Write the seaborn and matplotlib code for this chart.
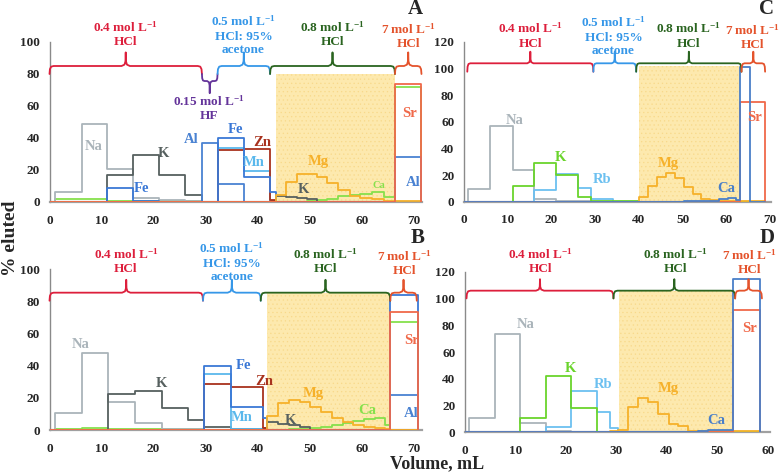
import matplotlib
matplotlib.use("Agg")
import matplotlib.pyplot as plt
import seaborn as sns

# ---------------- data ----------------
# Panel A: fraction edges (mL) and % eluted per fraction
A_EDGES = [0, 1, 6.2, 11.1, 16, 21, 26, 29.3, 32.3, 37.4, 42.4, 43.5, 45.4, 47.5,
           49.5, 51.4, 53.4, 55.5, 57.7, 59.7, 62, 64.2, 66.4, 71.5]
A_NA = [0, 6, 49, 20.5, 2.5, 1, 0.5, 0, 0, 0, 0, 0, 0, 0, 0, 0, 0, 0, 0, 0, 0, 0, 0]
A_K = [0, 0, 0, 17, 29.5, 17, 4.4, 0.3, 0.3, 0.3, 0.5, 3.7, 3.0, 2.5, 1.7, 0, 0, 0, 0, 0, 0, 0, 0]
A_FE = [0, 0, 0, 8.5, 0.5, 0, 0, 0, 40, 15.8, 6.4, 0, 0, 0, 0, 0, 0, 0, 0, 0, 0, 0, 0]
A_AL = [0, 0, 0, 0, 0, 0, 0, 36.7, 11, 0, 0, 0, 0, 0, 0, 0, 0, 0, 0, 0, 0, 0, 28]
A_MN = [0, 0, 0, 0, 0, 0, 0, 0, 34, 19.5, 0, 0, 0, 0, 0, 0, 0, 0, 0, 0, 0, 0, 0]
A_ZN = [0, 0, 0, 0, 0, 0, 0, 0, 32.5, 33, 1.2, 0, 0, 0, 0, 0, 0, 0, 0, 0, 0, 0, 0]
A_MG = [0, 0, 0, 0, 0, 0, 0, 0, 0, 0, 0, 4.4, 12.7, 17.5, 17.5, 15.8, 11.7, 7.5, 4, 2.7, 2, 0.6, 0.5]
A_CA = [0, 1.7, 1.7, 0.5, 0.5, 0.5, 0.5, 0, 0, 0, 0, 0, 0, 0.3, 0.5, 1, 2, 3.5, 4.3, 5, 6.2, 3, 72]
A_SR = [0, 0, 0, 0, 0, 0, 0, 0, 0, 0, 0, 0, 0, 0, 0, 0, 0, 0, 0, 0, 0, 0, 73.5]

# Panel B
B_EDGES = [0, 1, 6.2, 11.3, 16.4, 21.6, 26.7, 29.7, 34.8, 41, 41.9, 44, 46.1, 48.2,
           50.1, 52.2, 54.3, 56.4, 58.4, 60.5, 62.5, 64.5, 65.5, 70.8]
B_NA = [0, 10.4, 48, 17.6, 4.5, 0.8, 0.8, 0, 0, 0, 0, 0, 0, 0, 0, 0, 0, 0, 0, 0, 0, 0, 0]
B_K = [0, 0, 0, 22.2, 24.4, 13.9, 6.2, 1.7, 0.5, 1.5, 4.7, 3.9, 2.9, 2.0, 0, 0, 0, 0, 0, 0, 0, 0, 0]
B_FE = [0, 0, 0, 0, 0, 0, 0, 40, 14.5, 7.3, 0, 0, 0, 0, 0, 0, 0, 0, 0, 0, 0, 0, 84]
B_MN = [0, 0, 0, 0, 0, 0, 0, 35, 0.5, 0, 0, 0, 0, 0, 0, 0, 0, 0, 0, 0, 0, 0, 0]
B_ZN = [0, 0, 0, 0, 0, 0, 0, 28.6, 26.5, 1.5, 0, 0, 0, 0, 0, 0, 0, 0, 0, 0, 0, 0, 0]
B_AL = [0, 0, 0, 0, 0, 0, 0, 0, 0, 0, 0, 0, 0, 0, 0, 0, 0, 0, 0, 0, 0, 0, 22]
B_MG = [0, 0, 0, 0, 0, 0, 0, 0, 0, 0, 8.9, 16.6, 18.6, 17.6, 14.5, 11.4, 7.7, 4.7, 3.1, 2.1, 1.4, 0.7, 0]
B_CA = [0, 0.8, 1.3, 0.8, 0.8, 0.8, 0.5, 0, 0, 0, 0.3, 0.3, 0.5, 0.7, 1, 1.8, 3, 4.6, 5.3, 6.6, 7.6, 3.3, 67]
B_SR = [0, 0, 0, 0, 0, 0, 0, 0, 0, 0, 0, 0, 0, 0, 0, 0, 0, 0, 0, 0, 0, 0, 73]

# Panel C
C_EDGES = [0, 1, 6, 11.1, 16.1, 21.05, 26.2, 29.1, 34.2, 40, 42.2, 44.1, 46.2, 48.3,
           50.3, 52.3, 54.2, 56.3, 58.3, 60.3, 62.3, 63.2, 65.4, 68.8]
C_NA = [0, 9.5, 57, 23.8, 2, 0.5, 0.5, 0, 0, 0, 0, 0, 0, 0, 0, 0, 0, 0, 0, 0, 0, 0, 0]
C_K = [0, 0, 0, 11.5, 28.8, 20, 3.75, 0.3, 0.3, 0, 0, 0, 0, 0, 0, 0, 0, 0, 0, 0, 0, 0, 0]
C_RB = [0, 0, 0, 0, 9, 21, 10, 2.3, 0, 0, 0, 0, 0, 0, 0, 0, 0, 0, 0, 0, 0, 0, 0]
C_MG = [0, 0, 0, 0, 0, 0, 0, 0, 0, 3.3, 11.8, 18.8, 21.8, 17.5, 10.8, 5.8, 2.3, 1, 0.8, 0.6, 0.5, 0.5, 0.3]
C_CA = [0, 0, 0, 0, 0, 0, 0, 0, 0, 0, 0, 0, 0, 0, 0.3, 0.3, 0.5, 0.8, 2.3, 2.5, 1.5, 101, 0]
C_SR = [0, 0, 0, 0, 0, 0, 0, 0, 0, 0, 0, 0, 0, 0, 0, 0, 0, 0, 0, 0, 0, 75, 75]

# Panel D
D_EDGES = [0, 0.86, 5.94, 10.9, 16, 21, 26.1, 28.8, 30.2, 32.2, 34.3, 36.3, 38.3,
           40.3, 42.2, 44.2, 46.2, 48.2, 53.1, 58.4]
D_NA = [0, 10.25, 73.5, 6.5, 0.5, 0, 0, 0, 0, 0, 0, 0, 0, 0, 0, 0, 0, 0, 0]
D_K = [0, 0, 0, 10.75, 42, 17.75, 0, 0, 0, 0, 0, 0, 0, 0, 0, 0, 0, 0, 0]
D_RB = [0, 0, 0, 0, 4, 31, 15.25, 2.75, 0, 0, 0, 0, 0, 0, 0, 0, 0, 0, 0]
D_MG = [0, 0, 0, 0, 0, 0, 0, 0.5, 1.5, 18.5, 25.75, 22.75, 13.5, 6, 4.5, 1, 0.5, 0.5, 0.5]
D_CA = [0, 0, 0, 0, 0, 0, 0, 0, 0, 0, 0, 0, 0, 0, 0, 0, 0.5, 1.5, 114.7]
D_SR = [0, 0, 0, 0, 0, 0, 0, 0, 0, 0, 0, 0, 0, 0, 0, 0, 0, 0, 91.5]

# eluent zones: (start, end) per panel, and shaded Mg window
A_ZONES = [(0, 29.3), (29.3, 32.3), (32.3, 42.4), (42.4, 66.4), (66.4, 71.5)]
B_ZONES = [(0, 29.5), (29.5, 40.6), (40.6, 65.5), (65.5, 70.6)]
C_ZONES = [(0.75, 29.6), (29.6, 39.4), (39.4, 63.5), (63.5, 68.9)]
D_ZONES = [(0.3, 29.4), (29.4, 53.5), (53.5, 58.8)]
SHADE = {"A": (43.5, 66.4, 80), "B": (41.9, 65.5, 85), "C": (40.0, 63.2, 102), "D": (30.4, 53.1, 106)}

# ---------------- style ----------------
sns.set_style("white")
plt.rcParams["font.family"] = ["Liberation Serif", "DejaVu Serif"]
plt.rcParams["font.weight"] = "bold"
plt.rcParams["mathtext.fontset"] = "custom"
plt.rcParams["mathtext.rm"] = "Liberation Serif:bold"
plt.rcParams["mathtext.default"] = "rm"
plt.rcParams["hatch.linewidth"] = 0.4

COL_NA = "#aab4ba"
COL_KD = "#56605f"
COL_KG = "#6ad42c"
COL_FE = "#3a78d6"
COL_AL = "#4a82d2"
COL_MN = "#5ab8ec"
COL_ZN = "#a8321e"
COL_MG = "#f6b12a"
COL_CAG = "#86e04c"
COL_CAB = "#4a7fc8"
COL_SR = "#f0694a"
COL_RB = "#6cc0f0"
RED, BLUE, GREEN, ORANGE, PURPLE = "#dd1f3c", "#3697e8", "#2a6420", "#e4532c", "#64349a"


def step_xy(edges, vals):
    xs = [edges[0]] + list(edges) + [edges[-1]]
    ys = [0] + list(vals) + [vals[-1], 0]
    return xs, ys


def draw_series(ax, edges, series):
    for vals, col in series:
        xs, ys = step_xy(edges, vals)
        sns.lineplot(x=xs, y=ys, ax=ax, color=col, lw=1.3, sort=False,
                     estimator=None, drawstyle="steps-post", legend=False, zorder=3)


def brace(ax, x0, x1, y, color, hook, tick, d=0.8):
    xc = (x0 + x1) / 2
    xs = [x0, x0 + 0.1 * d, x0 + 0.4 * d, x0 + d, xc - d, xc - 0.3 * d, xc - 0.06 * d, xc,
          xc + 0.06 * d, xc + 0.3 * d, xc + d, x1 - d, x1 - 0.4 * d, x1 - 0.1 * d, x1]
    ys = [y - hook, y - 0.4 * hook, y - 0.08 * hook, y, y, y + 0.1 * tick, y + 0.35 * tick, y + tick,
          y + 0.35 * tick, y + 0.1 * tick, y, y, y - 0.08 * hook, y - 0.4 * hook, y - hook]
    ax.plot(xs, ys, color=color, lw=1.3, clip_on=False, zorder=4)


def style_axes(ax, xmax, ymax, xticks, yticks):
    ax.set_xlim(0, xmax)
    ax.set_ylim(0, ymax)
    ax.set_xticks(xticks)
    ax.set_yticks(yticks)
    ax.tick_params(axis="y", length=0, labelsize=9.5, pad=7)
    ax.tick_params(axis="x", length=0, labelsize=9.5, pad=9)
    for lab in ax.get_xticklabels() + ax.get_yticklabels():
        lab.set_fontweight("bold")
    for s in ["top", "right"]:
        ax.spines[s].set_visible(False)
    ax.spines["left"].set_color("#8a8a8a")
    ax.spines["left"].set_linewidth(1.0)
    ax.spines["bottom"].set_color("#a0a0a0")
    ax.spines["bottom"].set_linewidth(1.6)
    ax.set_xlabel("")
    ax.set_ylabel("")
    ax.patch.set_alpha(0)


def shade(ax, key):
    x0, x1, top = SHADE[key]
    ax.fill_between([x0, x1], 0, top, facecolor="#fde9ae", edgecolor="#f8d98a",
                    hatch="....", lw=0, zorder=1)


def label(ax, x, y, s, col, size=10.5, va="center"):
    ax.text(x, y, s, color=col, fontsize=size, fontweight="bold", ha="center", va=va,
            clip_on=False, zorder=5)


L1 = r"mol L$^{-1}$"

fig = plt.figure(figsize=(7.8, 4.73), dpi=100)
axA = fig.add_axes([49.5 / 780, 1 - 202 / 473, 372.5 / 780, 160 / 473])
axB = fig.add_axes([49.5 / 780, 1 - 430 / 473, 372.5 / 780, 161 / 473])
axC = fig.add_axes([464 / 780, 1 - 201.7 / 473, 307 / 780, 160 / 473])
axD = fig.add_axes([465 / 780, 1 - 432 / 473, 305 / 780, 160 / 473])

# ---- A ----
shade(axA, "A")
draw_series(axA, A_EDGES, [(A_CA, COL_CAG), (A_NA, COL_NA), (A_K, COL_KD), (A_AL, COL_AL),
                           (A_MN, COL_MN), (A_ZN, COL_ZN), (A_FE, COL_FE), (A_MG, COL_MG),
                           (A_SR, COL_SR)])
style_axes(axA, 71.6, 100, range(0, 71, 10), range(0, 101, 20))
z = A_ZONES
brace(axA, z[0][0], z[0][1], 85, RED, 5, 8.5)
brace(axA, z[1][0], z[1][1], 75.6, PURPLE, -4.4, -7.6, d=0.5)
brace(axA, z[2][0], z[2][1], 85, BLUE, 5, 8.5)
brace(axA, z[3][0], z[3][1], 85, GREEN, 5, 8.5)
brace(axA, z[4][0], z[4][1], 85, ORANGE, 5, 8.5)
label(axA, 14.65, 96, "0.4 " + L1 + "\nHCl", RED, 9.5, "bottom")
label(axA, 37.3, 91, "0.5 " + L1 + "\nHCl: 95%\nacetone", BLUE, 9.5, "bottom")
label(axA, 54.4, 96, "0.8 " + L1 + "\nHCl", GREEN, 9.5, "bottom")
label(axA, 69.0, 95, "7 " + L1 + "\nHCl", ORANGE, 9.5, "bottom")
label(axA, 30.7, 67.5, "0.15 " + L1 + "\nHF", PURPLE, 9.5, "top")
for x, y, s, c in [(8.4, 34.6, "Na", COL_NA), (17.7, 8.6, "Fe", COL_FE), (21.9, 30.4, "K", COL_KD),
                   (27.3, 38.8, "Al", COL_AL), (35.7, 45.4, "Fe", COL_FE), (40.8, 37.1, "Zn", COL_ZN),
                   (39.2, 24.6, "Mn", COL_MN), (51.7, 25.2, "Mg", COL_MG), (48.8, 7.9, "K", COL_KD),
                   (69.3, 55.4, "Sr", COL_SR), (69.9, 12.1, "Al", COL_AL)]:
    label(axA, x, y, s, c)
label(axA, 63.4, 10.6, "Ca", COL_CAG, 7.5)

# ---- B ----
shade(axB, "B")
draw_series(axB, B_EDGES, [(B_CA, COL_CAG), (B_NA, COL_NA), (B_K, COL_KD), (B_AL, COL_AL),
                           (B_MN, COL_MN), (B_ZN, COL_ZN), (B_FE, COL_FE), (B_MG, COL_MG),
                           (B_SR, COL_SR)])
style_axes(axB, 71.6, 100, range(0, 71, 10), range(0, 101, 20))
z = B_ZONES
brace(axB, z[0][0], z[0][1], 85.3, RED, 5, 8)
brace(axB, z[1][0], z[1][1], 85.3, BLUE, 5, 8)
brace(axB, z[2][0], z[2][1], 85.3, GREEN, 5, 8)
brace(axB, z[3][0], z[3][1], 85.3, ORANGE, 5, 8)
label(axB, 14.7, 96, "0.4 " + L1 + "\nHCl", RED, 9.5, "bottom")
label(axB, 35.0, 91, "0.5 " + L1 + "\nHCl: 95%\nacetone", BLUE, 9.5, "bottom")
label(axB, 53.0, 96, "0.8 " + L1 + "\nHCl", GREEN, 9.5, "bottom")
label(axB, 68.3, 95, "7 " + L1 + "\nHCl", ORANGE, 9.5, "bottom")
for x, y, s, c in [(6.0, 52.8, "Na", COL_NA), (21.6, 29, "K", COL_KD), (37.2, 39.8, "Fe", COL_FE),
                   (41.3, 30, "Zn", COL_ZN), (37.0, 7.9, "Mn", COL_MN), (50.7, 22.8, "Mg", COL_MG),
                   (46.3, 6.2, "K", COL_KD), (61.0, 12.4, "Ca", COL_CAG), (69.6, 55.9, "Sr", COL_SR),
                   (69.6, 10.4, "Al", COL_AL)]:
    label(axB, x, y, s, c)

# ---- C ----
shade(axC, "C")
draw_series(axC, C_EDGES, [(C_NA, COL_NA), (C_RB, COL_RB), (C_K, COL_KG), (C_MG, COL_MG),
                           (C_SR, COL_SR), (C_CA, COL_CAB)])
style_axes(axC, 70.25, 120, range(0, 71, 10), range(0, 121, 20))
z = C_ZONES
brace(axC, z[0][0], z[0][1], 103.8, RED, 6.3, 8.7, d=0.7)
brace(axC, z[1][0], z[1][1], 103.8, BLUE, 6.3, 8.7, d=0.7)
brace(axC, z[2][0], z[2][1], 103.8, GREEN, 6.3, 8.7, d=0.7)
brace(axC, z[3][0], z[3][1], 103.8, ORANGE, 6.3, 8.7, d=0.7)
label(axC, 15.1, 114, "0.4 " + L1 + "\nHCl", RED, 9.5, "bottom")
label(axC, 34.2, 108.3, "0.5 " + L1 + "\nHCl: 95%\nacetone", BLUE, 9.5, "bottom")
label(axC, 51.3, 114, "0.8 " + L1 + "\nHCl", GREEN, 9.5, "bottom")
label(axC, 66.0, 113, "7 " + L1 + "\nHCl", ORANGE, 9.5, "bottom")
for x, y, s, c in [(11.7, 60.8, "Na", COL_NA), (22.0, 33.3, "K", COL_KG), (31.5, 17, "Rb", COL_RB),
                   (46.8, 28.8, "Mg", COL_MG), (60.1, 10, "Ca", COL_CAB), (66.6, 63.3, "Sr", COL_SR)]:
    label(axC, x, y, s, c)

# ---- D ----
shade(axD, "D")
draw_series(axD, D_EDGES, [(D_NA, COL_NA), (D_RB, COL_RB), (D_K, COL_KG), (D_MG, COL_MG),
                           (D_SR, COL_SR), (D_CA, COL_CAB)])
style_axes(axD, 60.4, 120, range(0, 61, 10), range(0, 121, 20))
z = D_ZONES
brace(axD, z[0][0], z[0][1], 106, RED, 5.8, 8.6)
brace(axD, z[1][0], z[1][1], 106, GREEN, 5.8, 8.6)
brace(axD, z[2][0], z[2][1], 106, ORANGE, 5.8, 8.6)
label(axD, 14.9, 117.5, "0.4 " + L1 + "\nHCl", RED, 9.5, "bottom")
label(axD, 41.6, 117.5, "0.8 " + L1 + "\nHCl", GREEN, 9.5, "bottom")
label(axD, 56.3, 117, "7 " + L1 + "\nHCl", ORANGE, 9.5, "bottom")
for x, y, s, c in [(12.0, 80.3, "Na", COL_NA), (20.8, 47.8, "K", COL_KG), (27.4, 35.3, "Rb", COL_RB),
                   (40.3, 32.8, "Mg", COL_MG), (49.8, 8.5, "Ca", COL_CAB), (56.4, 77.8, "Sr", COL_SR)]:
    label(axD, x, y, s, c)

# panel letters and axis titles
for s, x, y in [("A", 415, 9), ("C", 767, 9), ("B", 418, 238), ("D", 767, 238)]:
    fig.text(x / 780, 1 - y / 473, s, fontsize=15, fontweight="bold", ha="center", va="center")
fig.text(11 / 780, 1 - 238 / 473, "% eluted", rotation=90, fontsize=14, fontweight="bold",
         ha="center", va="center")
fig.text(437 / 780, 1 - 464 / 473, "Volume, mL", fontsize=13, fontweight="bold",
         ha="center", va="center")

fig.savefig("out.png", dpi=100)
